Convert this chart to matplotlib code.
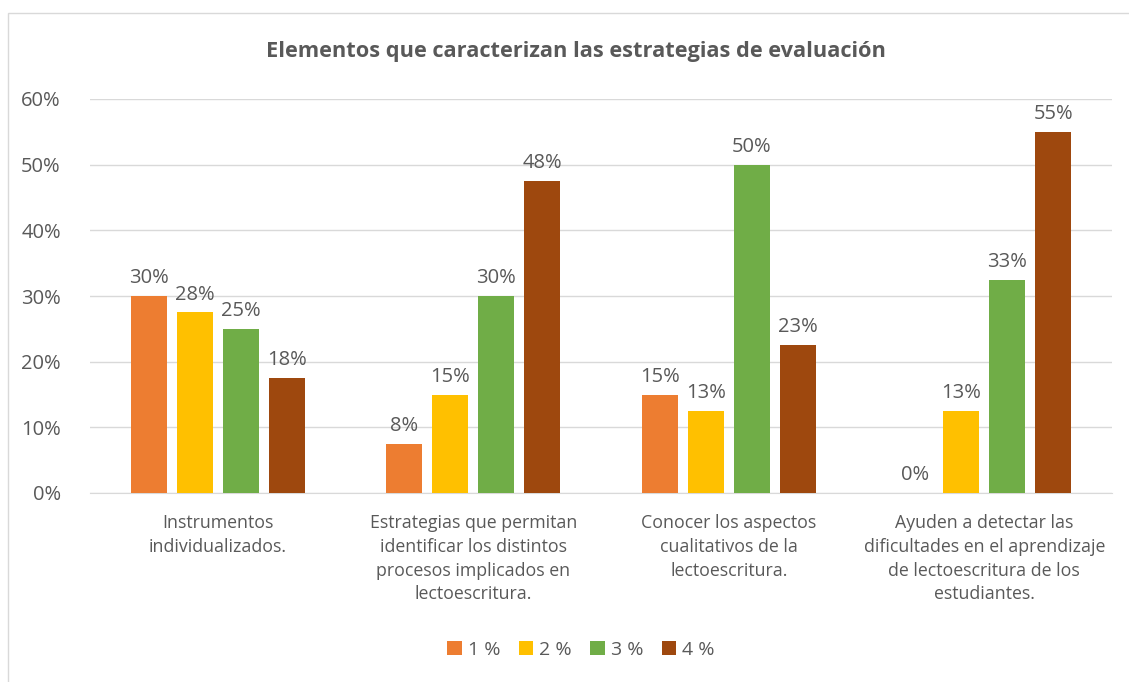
import numpy as np
import matplotlib.pyplot as plt
from matplotlib.patches import Rectangle

categories = ['Instrumentos\nindividualizados.',
              'Estrategias que permitan\nidentificar los distintos\nprocesos implicados en\nlectoescritura.',
              'Conocer los aspectos\ncualitativos de la\nlectoescritura.',
              'Ayuden a detectar las\ndificultades en el aprendizaje\nde lectoescritura de los\nestudiantes.']
series_names = ['1 %', '2 %', '3 %', '4 %']
values = [
    [30, 7.5, 15, 0],
    [27.5, 15, 12.5, 12.5],
    [25, 30, 50, 32.5],
    [17.5, 47.5, 22.5, 55],
]
labels = [
    ['30%', '8%', '15%', '0%'],
    ['28%', '15%', '13%', '13%'],
    ['25%', '30%', '50%', '33%'],
    ['18%', '48%', '23%', '55%'],
]
colors = ['#ED7D31', '#FFC000', '#70AD47', '#9E480E']

plt.rcParams['font.family'] = ['Open Sans', 'DejaVu Sans']
txt = '#595959'

fig = plt.figure(figsize=(11.29, 6.82), dpi=100)
fig.patches.append(Rectangle((8 / 1129, -0.01), 1.02, 1 - 13 / 682 + 0.01,
                             transform=fig.transFigure, fill=False,
                             edgecolor='#D9D9D9', linewidth=1))
ax = fig.add_axes([90 / 1129, 1 - 493 / 682, (1112 - 90) / 1129, (493 - 99) / 682])

x = np.arange(len(categories))
w = 0.141
step = 0.18
for i, name in enumerate(series_names):
    pos = x + (i - 1.5) * step
    bars = ax.bar(pos, values[i], w, color=colors[i], label=name, zorder=3)
    for b, lab in zip(bars, labels[i]):
        ax.text(b.get_x() + b.get_width() / 2, b.get_height() + 1.2, lab,
                ha='center', va='bottom', fontsize=14.5, color=txt)

ax.set_xlim(-0.5, 3.5)
ax.set_ylim(0, 60)
ax.set_yticks(range(0, 61, 10))
ax.set_yticklabels([f'{v}%' for v in range(0, 61, 10)])
ax.set_xticks(x)
ax.set_xticklabels(categories, fontsize=12.8, color=txt, linespacing=1.42)
ax.tick_params(axis='y', labelsize=14.5, colors=txt, length=0, pad=21)
ax.tick_params(axis='x', length=0, pad=15)
ax.grid(axis='y', color='#D9D9D9', linewidth=1, zorder=0)
for s in ['top', 'right', 'left']:
    ax.spines[s].set_visible(False)
ax.spines['bottom'].set_color('#D9D9D9')

fig.text(576 / 1129, 1 - 51 / 682, 'Elementos que caracterizan las estrategias de evaluación',
         ha='center', va='center', fontsize=15.7, fontweight='bold', color=txt)

fig.legend(loc='center', bbox_to_anchor=(581 / 1129, 1 - 650 / 682), ncol=4,
           frameon=False, fontsize=14, labelcolor=txt, handlelength=0.75,
           handleheight=0.75, handletextpad=0.3, columnspacing=0.95)

fig.savefig('out.png', dpi=100)
